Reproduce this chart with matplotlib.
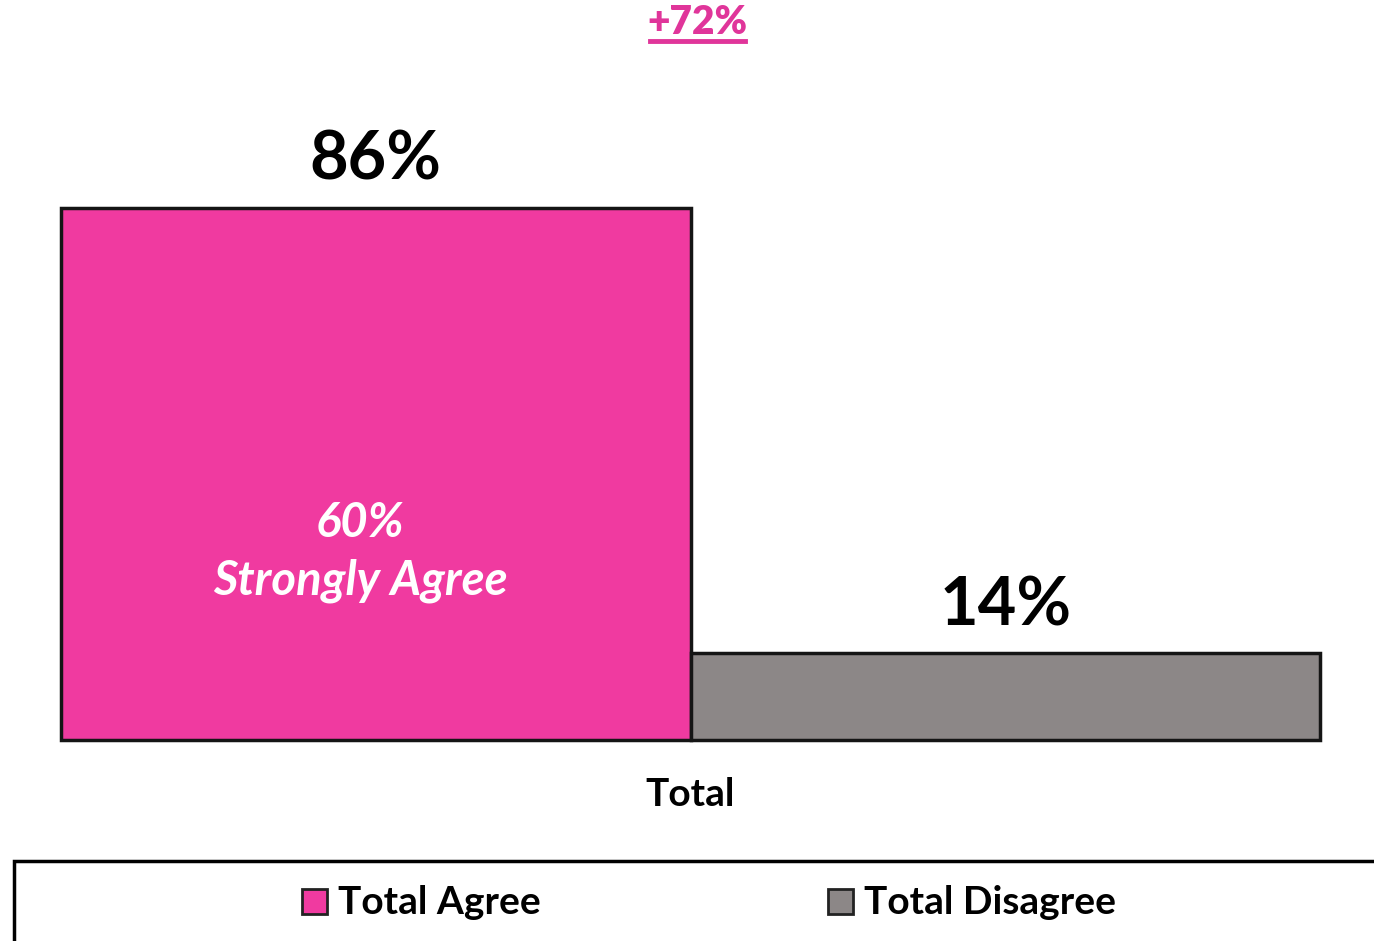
import matplotlib
matplotlib.use("Agg")
import matplotlib.pyplot as plt
from matplotlib.patches import Rectangle
from matplotlib.lines import Line2D

plt.rcParams['font.family'] = ['Lato', 'DejaVu Sans']

# data
categories = ["Total Agree", "Total Disagree"]
values = [86, 14]
labels = ["86%", "14%"]
colors = ["#F03AA0", "#8C8787"]
group_label = "Total"
inner_label = "60%\nStrongly Agree"
diff_label = "+72%"

fig = plt.figure(figsize=(13.74, 9.41), dpi=100)
W, H = 1374, 941
ax = fig.add_axes([61 / W, 1 - 740 / H, 1259 / W, 618.6 / H])

xs = [0, 1]
bars = ax.bar(xs, values, width=1.0, color=colors, edgecolor="#151515", linewidth=2.5, zorder=3)
for b in bars:
    b.set_clip_on(False)
ax.set_xlim(-0.5, 1.5)
ax.set_ylim(0, 100)
ax.axis("off")

# value labels
for x, v, lab in zip(xs, values, labels):
    ax.text(x, v + 2.6, lab, ha="center", va="bottom", fontsize=48, fontweight="bold", color="black")

ax.text(-0.025, 30.4, inner_label, ha="center", va="center", fontsize=34, fontweight="bold",
        style="italic", color="white", linespacing=1.36)

fig.text(690 / W, 1 - 795 / H, group_label, ha="center", va="center", fontsize=28, fontweight="bold")

# difference label, underlined
fig.text(697 / W, 1 - 22 / H, diff_label, ha="center", va="center", fontsize=28, fontweight="heavy", color="#E0359A")
fig.add_artist(Line2D([650 / W, 745 / W], [1 - 41 / H, 1 - 41 / H], color="#E0359A", linewidth=3.5))

# legend box
fig.add_artist(Rectangle((14 / W, -0.05), 1.1, (1 - 861 / H) + 0.05, transform=fig.transFigure,
                         facecolor="none", edgecolor="black", linewidth=2.5, clip_on=False))
leg_y = 1 - 902 / H
for (px, tx), cat, col in zip([(302, 338), (828, 864)], categories, colors):
    fig.add_artist(Rectangle((px / W, leg_y - 12 / H), 25 / W, 25 / H, transform=fig.transFigure,
                             facecolor=col, edgecolor="#222222", linewidth=2))
    fig.text(tx / W, leg_y, cat, ha="left", va="center", fontsize=28, fontweight="bold")

fig.savefig("out.png", dpi=100)
